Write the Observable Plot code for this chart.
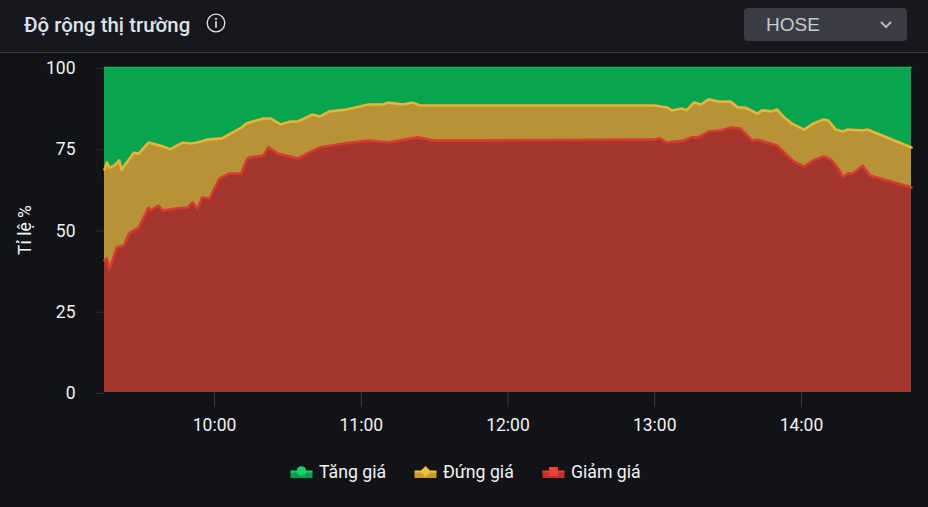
<!DOCTYPE html>
<html lang="vi">
<head>
<meta charset="utf-8">
<script src="https://cdn.jsdelivr.net/npm/d3@7"></script>
<script src="https://cdn.jsdelivr.net/npm/@observablehq/plot@0.6"></script>
<style>
html,body{margin:0;padding:0;width:928px;height:507px;overflow:hidden;background:#121316;font-family:Roboto,sans-serif;}
#header{position:absolute;left:0;top:0;width:928px;height:52px;background:#17181d;border-bottom:1px solid #3e3f44;box-sizing:content-box;}
#title{position:absolute;left:24px;top:13px;font-size:20.4px;line-height:24px;font-weight:500;color:#dde2e9;white-space:nowrap;}
#info{position:absolute;left:206px;top:13px;}
#select{position:absolute;left:744px;top:8px;width:163px;height:33px;background:#3b3c44;border-radius:4px;}
#select span{position:absolute;left:22px;top:5px;font:19px/23px "Liberation Sans",sans-serif;color:#c9cacd;}
#select svg{position:absolute;left:135px;top:12px;}
#chart{position:absolute;left:0;top:53px;}
#legend{position:absolute;left:0;top:460px;width:928px;height:24px;color:#f2f3f4;font-size:17.7px;line-height:24px;}
#legend .item{position:absolute;top:0;white-space:nowrap;}
#legend svg{position:absolute;left:0;top:5px;}
#legend span{position:absolute;left:29px;top:0;}
</style>
</head>
<body>
<div id="header">
  <div id="title">Độ rộng thị trường</div>
  <svg id="info" width="20" height="20" viewBox="0 0 20 20"><circle cx="10" cy="10" r="8.8" fill="none" stroke="#e4e6ea" stroke-width="1.3"/><circle cx="10" cy="5.8" r="1.1" fill="#e4e6ea"/><rect x="9.2" y="8.2" width="1.6" height="6.6" fill="#e4e6ea"/></svg>
  <div id="select"><span>HOSE</span><svg width="14" height="10" viewBox="0 0 14 10"><path d="M2 2 L7 7 L12 2" fill="none" stroke="#b4b5b9" stroke-width="2"/></svg></div>
</div>
<div id="chart"></div>
<div id="legend"></div>
<script>
// Minutes after 09:15 and boundary of each band, in percent
const startMinute = 555;
const endMinute = 885;
const upperMinutes = [0,1,2,4,6,7,12,14,18,21,24,27,29,32,35,38,42,48,51,56,58,65,68,72,76,79,85,88,92,99,108,114,116,122,126,129,135,225,230,232,236,238,241,244,247,251,256,259,262,267,269,273,275,278,281,286,290,294,296,299,302,304,310,312,330];
const upperBoundary = [68.6,70.8,69.2,69.8,71.4,68.6,73.8,73.5,76.9,76.3,75.7,74.8,75.7,76.9,76.6,76.9,77.8,78.2,79.4,81.5,82.8,84.3,84.3,82.5,83.4,83.4,85.5,84.9,86.5,87.1,88.6,88.6,89.2,88.6,89.2,88.3,88.3,88.3,87.7,86.8,87.4,86.8,89.2,88.6,90.2,89.5,89.5,87.7,87.7,85.8,86.8,86.5,87.1,84.6,82.8,80.9,82.8,84,83.7,80.9,80.3,80.9,80.6,80.9,75.4];
const lowerMinutes = [0,1,2,5,8,10,14,15,18,19,22,24,29,34,36,38,40,43,47,51,56,58,59,65,67,71,79,88,98,108,116,128,135,225,227,230,237,240,243,247,252,256,260,265,267,275,278,282,286,290,294,297,300,302,304,306,310,313,330];
const lowerBoundary = [40.6,41.2,37.8,44.6,45.2,48.9,50.8,52.3,56.9,56,57.5,56,56.6,56.9,58.5,56.6,60,59.7,65.8,67.4,67.4,71.4,72.3,72.9,75.4,73.5,72,75.4,76.6,77.5,76.9,78.5,77.5,77.8,78.2,76.9,77.5,78.5,78.5,80.3,80.6,81.5,81.2,77.5,77.8,76,73.8,71,69.5,71.4,72.6,71.7,68.9,66.2,67.4,67.4,69.8,66.8,63.1];

const hourTicks = [600,660,720,780,840];
const hourLabels = ["10:00","11:00","12:00","13:00","14:00"];
const percentTicks = [0,25,50,75,100];
const legendNames = ["Tăng giá","Đứng giá","Giảm giá"];
const legendColors = ["#0a9f4e","#c79a34","#b8332c"];
const legendMarkers = ["#16d06c","#f0c040","#ea4038"];
const legendShapes = ["circle","diamond","square"];
const legendLefts = [290,414,542];

const upper = upperMinutes.map((m,i)=>({t:startMinute+m,v:upperBoundary[i]}));
const lower = lowerMinutes.map((m,i)=>({t:startMinute+m,v:lowerBoundary[i]}));
const full = [{t:startMinute,v:100},{t:endMinute,v:100}];

const plot = Plot.plot({
  width:928,height:392,
  marginTop:14,marginBottom:53,marginLeft:104,marginRight:17,
  style:{background:"transparent",fontFamily:"Roboto, sans-serif",fontSize:"17.5px",color:"#f0f1f3"},
  x:{domain:[startMinute,endMinute]},
  y:{domain:[0,100]},
  marks:[
    Plot.areaY(full,{x:"t",y1:0,y2:"v",fill:"#08a54e"}),
    Plot.areaY(upper,{x:"t",y1:0,y2:"v",fill:"#b89236"}),
    Plot.areaY(lower,{x:"t",y1:0,y2:"v",fill:"#a4362e"}),
    Plot.line(full,{x:"t",y:"v",stroke:"#12b35a",strokeWidth:1.5}),
    Plot.line(upper,{x:"t",y:"v",stroke:"#e6b63a",strokeWidth:2.6}),
    Plot.line(lower,{x:"t",y:"v",stroke:"#d63c30",strokeWidth:2.6}),
    Plot.axisX({ticks:hourTicks,tickFormat:(d)=>hourLabels[hourTicks.indexOf(d)],tickSize:15,tickPadding:11,stroke:"#3a3b40",fill:"#f0f1f3",label:null,fontSize:17.5}),
    Plot.axisY({ticks:percentTicks,tickSize:8,tickPadding:21,dy:1,stroke:"#2c2d31",fill:"#f0f1f3",label:null,fontSize:17.5}),
    Plot.text(["Tỉ lệ %"],{frameAnchor:"left",textAnchor:"middle",dx:-79,rotate:-90,fill:"#f4f5f6",fontSize:17.5,fontWeight:400})
  ]
});
document.getElementById("chart").appendChild(plot);

const markerSvg = (shape,color)=> shape==="circle"
  ? `<circle cx="11.5" cy="6" r="4.8" fill="${color}"/>`
  : shape==="diamond"
  ? `<path d="M11.5 1 L17 6.5 L11.5 12 L6 6.5 Z" fill="${color}"/>`
  : `<rect x="7" y="2" width="9" height="9" fill="${color}"/>`;
const legend = document.getElementById("legend");
legendNames.forEach((name,i)=>{
  const item=document.createElement("div");
  item.className="item";
  item.style.left=legendLefts[i]+"px";
  item.innerHTML=`<svg width="23" height="14" viewBox="0 0 23 14"><path d="M0.5 7 L22.5 7 L22.5 13 L0.5 13 Z" fill="${legendColors[i]}"/><path d="M0.5 6.5 L22.5 6.5" stroke="${legendMarkers[i]}" stroke-width="2"/>${markerSvg(legendShapes[i],legendMarkers[i])}</svg><span>${name}</span>`;
  legend.appendChild(item);
});
</script>
</body>
</html>
